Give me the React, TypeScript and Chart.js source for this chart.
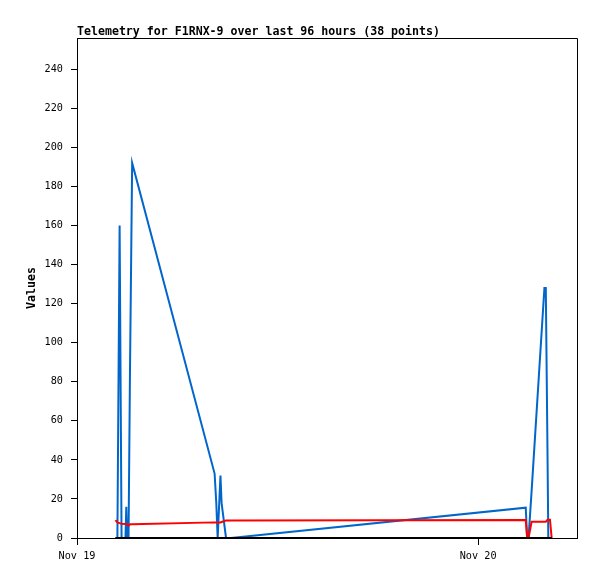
import React, { useEffect, useRef } from "react";
import { Chart, registerables } from "chart.js";

Chart.register(...registerables);

// Minutes since Nov 19 00:00
const times = [
  138, 145, 153, 160, 174, 177, 180, 185, 190, 198,
  494, 500, 505, 515, 519, 535, 553,
  1611, 1616, 1621, 1632, 1678, 1683, 1689, 1692, 1698, 1704,
];
const blueValues = [
  0, 0, 160, 0, 0, 16, 0, 0, 82, 192,
  33, 18, 0, 32, 18, 0, 0,
  15.5, 0, 0, 24, 128, 128, 45, 0, 0, 0,
];
const redValues = [
  9.2, 8.0, 7.6, 7.3, 7.2, 7.2, 7.0, 6.3, 7.0, 7.0,
  8.0, 8.0, 8.0, 8.0, 8.2, 8.9, 8.9,
  9.2, 0, 0, 8.3, 8.3, 8.3, 9.4, 9.4, 9.4, 0,
];
const blackValues = [
  0, 0, 0, 0, 0, 0, 0, 0, 0, 0,
  0, 0, 0, 0, 0, 0, 0,
  0, 0, 0, 0, 0, 0, 0, 0, 0, 0,
];
const dayTicks = [0, 1440];
const dayLabels = ["Nov 19", "Nov 20"];
const titleText = "Telemetry for F1RNX-9 over last 96 hours (38 points)";
const yTitle = "Values";

const toPoints = (vals: number[]) => vals.map((v, i) => ({ x: times[i], y: v }));

export default function App() {
  const ref = useRef<HTMLCanvasElement | null>(null);
  useEffect(() => {
    if (!ref.current) return;
    const framePlugin = {
      id: "frame",
      afterDraw(chart: any) {
        const { ctx, chartArea } = chart;
        ctx.save();
        ctx.strokeStyle = "#000";
        ctx.lineWidth = 1;
        ctx.beginPath();
        ctx.moveTo(chartArea.left, chartArea.top + 0.5);
        ctx.lineTo(chartArea.right + 0.5, chartArea.top + 0.5);
        ctx.lineTo(chartArea.right + 0.5, chartArea.bottom);
        ctx.stroke();
        ctx.fillStyle = "#000";
        ctx.font = "bold 11.6px 'DejaVu Sans Mono'";
        ctx.textBaseline = "alphabetic";
        ctx.textAlign = "left";
        ctx.fillText(titleText, chartArea.left, 34.5);
        ctx.restore();
      },
    };
    const chart = new Chart(ref.current, {
      type: "line",
      data: {
        datasets: [
          {
            label: "black",
            data: toPoints(blackValues),
            borderColor: "#000000",
            borderWidth: 2,
            pointRadius: 0,
            tension: 0,
          },
          {
            label: "red",
            data: toPoints(redValues),
            borderColor: "#ff0000",
            borderWidth: 2,
            pointRadius: 0,
            tension: 0,
          },
          {
            label: "blue",
            data: toPoints(blueValues),
            borderColor: "#0066cc",
            borderWidth: 2,
            pointRadius: 0,
            tension: 0,
          },
        ],
      },
      options: {
        responsive: false,
        animation: false,
        devicePixelRatio: 1,
        layout: { padding: { top: 38, right: 20, left: 0, bottom: 0 } },
        plugins: {
          legend: { display: false },
          title: { display: false },
          tooltip: { enabled: false },
        },
        scales: {
          x: {
            type: "linear",
            min: 0,
            max: 1795,
            afterFit: (s: any) => {
              s.height = 41;
            },
            afterBuildTicks: (s: any) => {
              s.ticks = dayTicks.map((v) => ({ value: v }));
            },
            ticks: {
              includeBounds: false,
              autoSkip: false,
              maxRotation: 0,
              padding: 5,
              color: "#000",
              font: { family: "'DejaVu Sans Mono'", size: 10.2 },
              callback: (v: any) => {
                const i = dayTicks.indexOf(Number(v));
                return i >= 0 ? dayLabels[i] : "";
              },
            },
            grid: {
              drawOnChartArea: false,
              drawTicks: true,
              tickLength: 7,
              color: "#000",
            },
            border: { color: "#000", width: 1 },
          },
          y: {
            min: 0,
            max: 256,
            afterFit: (s: any) => {
              s.width = 77;
            },
            ticks: {
              stepSize: 20,
              includeBounds: false,
              padding: 8,
              color: "#000",
              font: { family: "'DejaVu Sans Mono'", size: 10.2 },
            },
            grid: {
              drawOnChartArea: false,
              drawTicks: true,
              tickLength: 6,
              color: "#000",
            },
            border: { color: "#000", width: 1 },
            title: {
              display: true,
              text: yTitle,
              color: "#000",
              font: { family: "'DejaVu Sans Mono'", size: 11.6, weight: "bold" },
              padding: { top: 25, bottom: 0 },
            },
          },
        },
      },
      plugins: [framePlugin],
    });
    return () => chart.destroy();
  }, []);
  return (
    <div style={{ position: "absolute", left: 0, top: 0, width: 597, height: 579, background: "#fff" }}>
      <canvas ref={ref} width={597} height={579} />
    </div>
  );
}
